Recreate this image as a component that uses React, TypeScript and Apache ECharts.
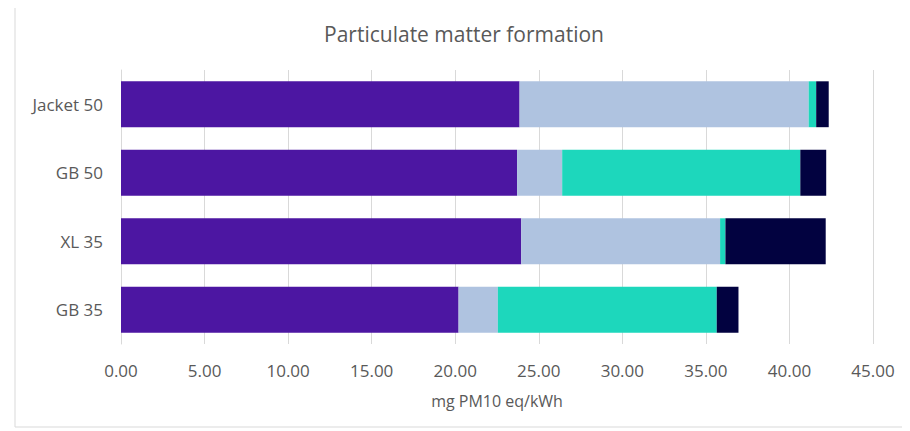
import React, { useEffect, useRef } from "react";
import * as echarts from "echarts";

// Categories, top to bottom
const categories = ["Jacket 50", "GB 50", "XL 35", "GB 35"];

// Stacked contributions (mg PM10 eq/kWh)
const seriesA = [23.85, 23.7, 23.95, 20.2];
const seriesB = [17.3, 2.7, 11.9, 2.35];
const seriesC = [0.45, 14.25, 0.32, 13.1];
const seriesD = [0.75, 1.55, 6.0, 1.3];

const xTicks = { min: 0, max: 45, interval: 5 };
const titleText = "Particulate matter formation";
const axisName = "mg PM10 eq/kWh";

const colors = ["#4C16A2", "#AFC3E0", "#1DD7BC", "#020240"];
const fontFamily = "'Open Sans', 'Noto Sans', sans-serif";
const textColor = "#595959";

export default function App() {
  const ref = useRef<HTMLDivElement>(null);

  useEffect(() => {
    if (!ref.current) return;
    const chart = echarts.init(ref.current, null, { renderer: "svg" });
    const data = [seriesA, seriesB, seriesC, seriesD];
    chart.setOption({
      animation: false,
      backgroundColor: "#ffffff",
      textStyle: { fontFamily },
      graphic: [
        {
          type: "rect",
          shape: { x: 7, y: -3, width: 900, height: 422 },
          style: { fill: "none", stroke: "#d9d9d9", lineWidth: 1 },
          silent: true,
        },
        {
          type: "text",
          x: 456,
          y: 26,
          style: {
            text: titleText,
            fontSize: 21,
            fontFamily,
            fill: textColor,
            align: "center",
            verticalAlign: "middle",
          },
          silent: true,
        },
      ],
      grid: { left: 113, right: 37, top: 62, bottom: 87, containLabel: false },
      xAxis: {
        type: "value",
        min: xTicks.min,
        max: xTicks.max,
        interval: xTicks.interval,
        name: axisName,
        nameLocation: "middle",
        nameGap: 49,
        nameTextStyle: { fontSize: 16, color: textColor, fontFamily },
        axisLine: { show: false },
        axisTick: { show: false },
        axisLabel: {
          fontSize: 17,
          color: textColor,
          margin: 18,
          formatter: (v: number) => v.toFixed(2),
        },
        splitLine: { show: true, lineStyle: { color: "#d9d9d9", width: 1 } },
      },
      yAxis: {
        type: "category",
        data: categories,
        inverse: true,
        axisLine: { show: true, lineStyle: { color: "#d9d9d9" } },
        axisTick: { show: false },
        axisLabel: { fontSize: 17, color: textColor, margin: 18 },
      },
      series: data.map((vals, i) => ({
        type: "bar",
        stack: "total",
        data: vals,
        barCategoryGap: "33%",
        itemStyle: { color: colors[i] },
      })),
    });
    return () => chart.dispose();
  }, []);

  return <div ref={ref} style={{ width: 902, height: 423 }} />;
}
